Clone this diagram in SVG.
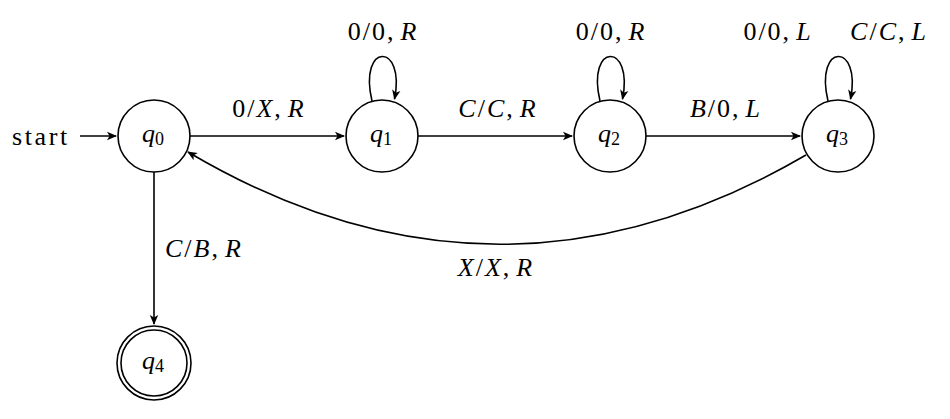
<svg xmlns="http://www.w3.org/2000/svg" width="950" height="419" viewBox="0 0 950 419">
<style>
  .st { fill: #fff; stroke: #000; stroke-width: 1.6; }
  .ed { fill: none; stroke: #000; stroke-width: 1.6; marker-end: url(#arr); }
  .lb { text-anchor: middle; }
  .i { font-style: italic; }
  .sub { font-size: 18px; letter-spacing: 0; }
</style>
<defs>
  <marker id="arr" viewBox="-11 -5 12 10" refX="-1" refY="0" markerWidth="12" markerHeight="10" markerUnits="userSpaceOnUse" orient="auto">
    <path d="M-10,-4.2 L0,0 L-10,4.2 L-7.5,0 z" fill="#000"/>
  </marker>
</defs>
<rect width="950" height="419" fill="#fff"/>
<g id="connectors">
  <path id="e-start" class="ed" d="M80,136 L116,136"/>
  <path id="e-q0-q1" class="ed" d="M190,136 L344,136"/>
  <path id="e-q1-q2" class="ed" d="M418,136 L572,136"/>
  <path id="e-q2-q3" class="ed" d="M646,136 L800,136"/>
  <path id="e-q0-q4" class="ed" d="M154,172 L154,324"/>
  <path id="e-q3-q0" class="ed" d="M806,155 Q497,335 188,152"/>
  <path id="e-q1-loop" class="ed" d="M372,101 C358,42 406,42 394.5,99"/>
  <path id="e-q2-loop" class="ed" d="M600,101 C586,42 634,42 622.5,99"/>
  <path id="e-q3-loop" class="ed" d="M828,101 C814,42 862,42 850.5,99"/>
</g>
<g id="labels" font-family="Liberation Serif, DejaVu Serif, serif" font-size="26" fill="#000" letter-spacing="2">
  <text x="12" y="145" letter-spacing="2.6">start</text>
  <text class="lb" x="269" y="117">0/<tspan class="i">X</tspan>,<tspan class="i" dx="5">R</tspan></text>
  <text class="lb" x="498" y="117"><tspan class="i">C</tspan>/<tspan class="i">C</tspan>,<tspan class="i" dx="5">R</tspan></text>
  <text class="lb" x="726" y="117"><tspan class="i">B</tspan>/0,<tspan class="i" dx="5">L</tspan></text>
  <text class="lb" x="383" y="40">0/0,<tspan class="i" dx="5">R</tspan></text>
  <text class="lb" x="611" y="40">0/0,<tspan class="i" dx="5">R</tspan></text>
  <text class="lb" x="778" y="40">0/0,<tspan class="i" dx="5">L</tspan></text>
  <text class="lb" x="889" y="40"><tspan class="i">C</tspan>/<tspan class="i">C</tspan>,<tspan class="i" dx="5">L</tspan></text>
  <text x="165" y="257"><tspan class="i">C</tspan>/<tspan class="i">B</tspan>,<tspan class="i" dx="5">R</tspan></text>
  <text class="lb" x="496" y="276"><tspan class="i">X</tspan>/<tspan class="i">X</tspan>,<tspan class="i" dx="5">R</tspan></text>
</g>
<g id="q0" font-family="Liberation Serif, DejaVu Serif, serif" font-size="26">
  <circle class="st" cx="154" cy="136" r="36"/>
  <text class="lb" x="153" y="142"><tspan class="i">q</tspan><tspan class="sub" dy="3">0</tspan></text>
</g>
<g id="q1" font-family="Liberation Serif, DejaVu Serif, serif" font-size="26">
  <circle class="st" cx="382" cy="136" r="36"/>
  <text class="lb" x="381" y="142"><tspan class="i">q</tspan><tspan class="sub" dy="3">1</tspan></text>
</g>
<g id="q2" font-family="Liberation Serif, DejaVu Serif, serif" font-size="26">
  <circle class="st" cx="610" cy="136" r="36"/>
  <text class="lb" x="609" y="142"><tspan class="i">q</tspan><tspan class="sub" dy="3">2</tspan></text>
</g>
<g id="q3" font-family="Liberation Serif, DejaVu Serif, serif" font-size="26">
  <circle class="st" cx="838" cy="136" r="36"/>
  <text class="lb" x="837" y="142"><tspan class="i">q</tspan><tspan class="sub" dy="3">3</tspan></text>
</g>
<g id="q4" font-family="Liberation Serif, DejaVu Serif, serif" font-size="26">
  <circle class="st" cx="154" cy="363" r="37"/>
  <circle class="st" cx="154" cy="363" r="33"/>
  <text class="lb" x="153" y="369"><tspan class="i">q</tspan><tspan class="sub" dy="3">4</tspan></text>
</g>
</svg>
